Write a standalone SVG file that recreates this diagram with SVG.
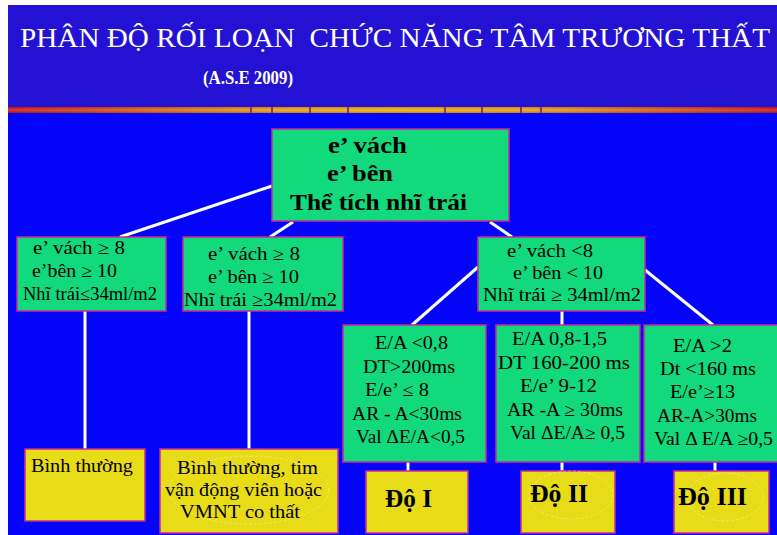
<svg xmlns="http://www.w3.org/2000/svg" width="777" height="535" viewBox="0 0 777 535">
<defs>
<linearGradient id="bar" x1="0" y1="0" x2="1" y2="0">
<stop offset="0" stop-color="#D01414"/>
<stop offset="0.35" stop-color="#F0A010"/>
<stop offset="0.5" stop-color="#F8B000"/>
<stop offset="0.68" stop-color="#F0A010"/>
<stop offset="1" stop-color="#D01414"/>
</linearGradient>
<linearGradient id="barv" x1="0" y1="0" x2="0" y2="1">
<stop offset="0" stop-color="#000" stop-opacity="0.15"/>
<stop offset="0.5" stop-color="#fff" stop-opacity="0.15"/>
<stop offset="1" stop-color="#000" stop-opacity="0.2"/>
</linearGradient>
</defs>
<style>
.g{fill:#12DA7C;stroke:#C8289C;stroke-width:1.5}
.y{fill:#E8DC18;stroke:#C8289C;stroke-width:1.5}
.t{font-family:"Liberation Serif","DejaVu Serif",serif;fill:#000}
.s{font-size:18px}
.r{font-size:24px;font-weight:bold}
.d{font-size:25px;font-weight:bold}
.c{stroke:#FFFFFF;stroke-width:3;fill:none}
.o{fill:none;stroke:#FFFFFF;stroke-opacity:0.35;stroke-width:1;stroke-dasharray:3 2}
.sep{fill:#8A3A60}
</style>
<rect x="0" y="0" width="777" height="535" fill="#FFFFFF"/>
<rect x="8" y="5" width="769" height="530" fill="#0404F8"/>
<rect x="8" y="5" width="769" height="103" fill="#2412D4"/>
<rect x="8" y="107" width="769" height="6" fill="url(#bar)"/>
<rect x="8" y="107" width="769" height="6" fill="url(#barv)"/>
<g>
<rect class="sep" x="250" y="107" width="2" height="6"/>
<rect class="sep" x="271" y="107" width="2" height="6"/>
<rect class="sep" x="309" y="107" width="2" height="6"/>
<rect class="sep" x="347" y="107" width="2" height="6"/>
<rect class="sep" x="444" y="107" width="2" height="6"/>
<rect class="sep" x="481" y="107" width="2" height="6"/>
<rect class="sep" x="520" y="107" width="2" height="6"/>
<rect class="sep" x="540" y="107" width="2" height="6"/>
</g>
<g id="title">
<text x="20" y="47" font-family="Liberation Serif, serif" font-size="27" fill="#FFFFFF" textLength="750" lengthAdjust="spacingAndGlyphs" xml:space="preserve">PHÂN ĐỘ RỐI LOẠN  CHỨC NĂNG TÂM TRƯƠNG THẤT</text>
<text x="203" y="84" font-family="Liberation Serif, serif" font-size="19" font-weight="bold" fill="#FFFFFF" textLength="90" lengthAdjust="spacingAndGlyphs">(A.S.E 2009)</text>
</g>
<g id="connectors">
<line class="c" x1="272" y1="186" x2="120" y2="237"/>
<line class="c" x1="293" y1="222" x2="270" y2="237"/>
<line class="c" x1="490" y1="222" x2="512" y2="237"/>
<line class="c" x1="478" y1="267" x2="412" y2="325"/>
<line class="c" x1="562" y1="311" x2="562" y2="325"/>
<line class="c" x1="645" y1="270" x2="713" y2="325"/>
<line class="c" x1="85" y1="311" x2="85" y2="449"/>
<line class="c" x1="249" y1="311" x2="249" y2="449"/>
<line class="c" x1="408" y1="462" x2="408" y2="471"/>
<line class="c" x1="562" y1="462" x2="562" y2="471"/>
<line class="c" x1="715" y1="462" x2="715" y2="471"/>
</g>
<g id="root">
<rect class="g" x="272" y="129" width="237" height="92"/>
<text class="t r" x="328" y="153" textLength="79" lengthAdjust="spacingAndGlyphs">e’ vách</text>
<text class="t r" x="327" y="181" textLength="66" lengthAdjust="spacingAndGlyphs">e’ bên</text>
<text class="t r" x="290" y="210" textLength="177" lengthAdjust="spacingAndGlyphs">Thể tích nhĩ trái</text>
</g>
<g id="n1">
<rect class="g" x="17" y="237" width="149" height="74"/>
<text class="t s" x="33" y="254" textLength="92" lengthAdjust="spacingAndGlyphs">e’ vách ≥ 8</text>
<text class="t s" x="32" y="277" textLength="85" lengthAdjust="spacingAndGlyphs">e’bên ≥ 10</text>
<text class="t s" x="23" y="300" textLength="134" lengthAdjust="spacingAndGlyphs">Nhĩ trái≤34ml/m2</text>
</g>
<g id="n2">
<rect class="g" x="183" y="237" width="160" height="74"/>
<text class="t s" x="208" y="260" textLength="92" lengthAdjust="spacingAndGlyphs">e’ vách ≥ 8</text>
<text class="t s" x="208" y="283" textLength="91" lengthAdjust="spacingAndGlyphs">e’ bên ≥ 10</text>
<text class="t s" x="184" y="306" textLength="153" lengthAdjust="spacingAndGlyphs">Nhĩ trái ≥34ml/m2</text>
</g>
<g id="n3">
<rect class="g" x="478" y="237" width="167" height="74"/>
<text class="t s" x="507" y="257" textLength="86" lengthAdjust="spacingAndGlyphs">e’ vách &lt;8</text>
<text class="t s" x="513" y="279" textLength="90" lengthAdjust="spacingAndGlyphs">e’ bên &lt; 10</text>
<text class="t s" x="483" y="301" textLength="158" lengthAdjust="spacingAndGlyphs">Nhĩ trái ≥ 34ml/m2</text>
</g>
<g id="gA">
<rect class="g" x="343" y="325" width="143" height="137"/>
<text class="t s" x="375" y="349" textLength="73" lengthAdjust="spacingAndGlyphs">E/A &lt;0,8</text>
<text class="t s" x="363" y="373" textLength="92" lengthAdjust="spacingAndGlyphs">DT&gt;200ms</text>
<text class="t s" x="365" y="396" textLength="64" lengthAdjust="spacingAndGlyphs">E/e’ ≤ 8</text>
<text class="t s" x="352" y="420" textLength="110" lengthAdjust="spacingAndGlyphs">AR - A&lt;30ms</text>
<text class="t s" x="356" y="443" textLength="109" lengthAdjust="spacingAndGlyphs">Val ΔE/A&lt;0,5</text>
</g>
<g id="gB">
<rect class="g" x="496" y="325" width="144" height="137"/>
<text class="t s" x="512" y="345" textLength="95" lengthAdjust="spacingAndGlyphs">E/A 0,8-1,5</text>
<text class="t s" x="498" y="369" textLength="132" lengthAdjust="spacingAndGlyphs">DT 160-200 ms</text>
<text class="t s" x="520" y="392" textLength="77" lengthAdjust="spacingAndGlyphs">E/e’ 9-12</text>
<text class="t s" x="507" y="416" textLength="116" lengthAdjust="spacingAndGlyphs">AR -A ≥ 30ms</text>
<text class="t s" x="510" y="439" textLength="115" lengthAdjust="spacingAndGlyphs">Val ΔE/A≥ 0,5</text>
</g>
<g id="gC">
<rect class="g" x="644" y="325" width="140" height="137"/>
<text class="t s" x="673" y="352" textLength="59" lengthAdjust="spacingAndGlyphs">E/A &gt;2</text>
<text class="t s" x="660" y="375" textLength="96" lengthAdjust="spacingAndGlyphs">Dt &lt;160 ms</text>
<text class="t s" x="670" y="398" textLength="65" lengthAdjust="spacingAndGlyphs">E/e’≥13</text>
<text class="t s" x="657" y="422" textLength="100" lengthAdjust="spacingAndGlyphs">AR-A&gt;30ms</text>
<text class="t s" x="654" y="445" textLength="119" lengthAdjust="spacingAndGlyphs">Val Δ E/A ≥0,5</text>
</g>
<g id="y1">
<rect class="y" x="25" y="449" width="120" height="72"/>
<text class="t s" x="31" y="472" textLength="102" lengthAdjust="spacingAndGlyphs">Bình thường</text>
</g>
<g id="y2">
<rect class="y" x="160" y="449" width="178" height="84"/>
<ellipse class="o" cx="249" cy="490" rx="80" ry="34"/>
<text class="t s" x="177" y="474" textLength="141" lengthAdjust="spacingAndGlyphs">Bình thường, tim</text>
<text class="t s" x="165" y="496" textLength="157" lengthAdjust="spacingAndGlyphs">vận động viên hoặc</text>
<text class="t s" x="180" y="518" textLength="120" lengthAdjust="spacingAndGlyphs">VMNT co thất</text>
</g>
<g id="d1">
<rect class="y" x="366" y="471" width="102" height="62"/>
<text class="t d" x="385" y="507" textLength="47" lengthAdjust="spacingAndGlyphs">Độ I</text>
</g>
<g id="d2">
<rect class="y" x="521" y="471" width="94" height="62"/>
<ellipse class="o" cx="571" cy="495" rx="42" ry="24"/>
<text class="t d" x="530" y="502" textLength="58" lengthAdjust="spacingAndGlyphs">Độ II</text>
</g>
<g id="d3">
<rect class="y" x="674" y="471" width="95" height="62"/>
<ellipse class="o" cx="725" cy="497" rx="38" ry="24"/>
<text class="t d" x="678" y="505" textLength="69" lengthAdjust="spacingAndGlyphs">Độ III</text>
</g>
</svg>
